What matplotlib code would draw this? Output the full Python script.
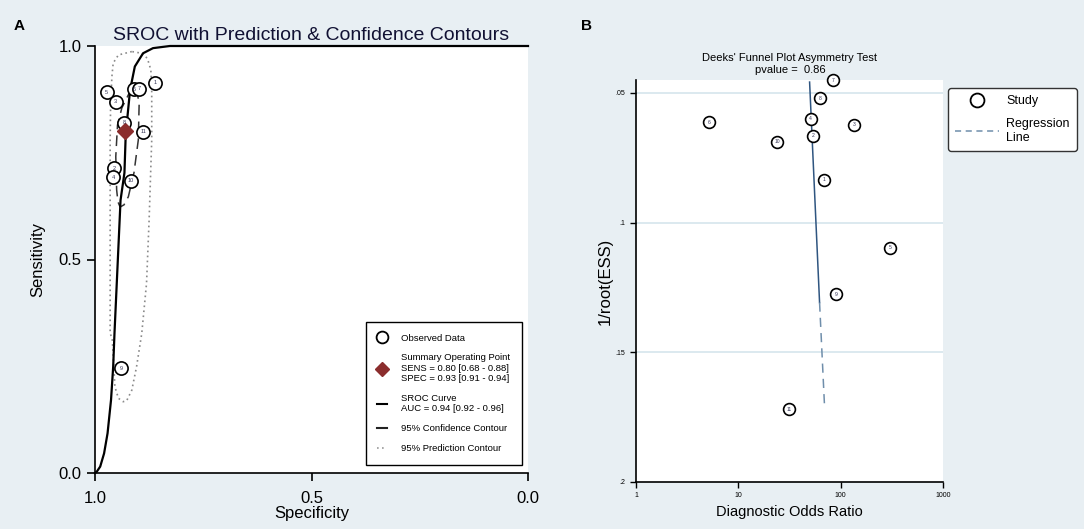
import numpy as np
import matplotlib
matplotlib.use('Agg')
import matplotlib.pyplot as plt
from matplotlib.lines import Line2D

plt.rcParams['font.family'] = ['Liberation Sans', 'DejaVu Sans']
BG = '#e8eff3'

# ---- panel A: SROC ----
study_ids = ['1', '2', '3', '4', '5', '6', '7', '8', '9', '10', '11']
spec_obs = [0.861, 0.955, 0.952, 0.958, 0.973, 0.910, 0.898, 0.933, 0.940, 0.917, 0.888]
sens_obs = [0.914, 0.714, 0.870, 0.693, 0.892, 0.899, 0.900, 0.820, 0.245, 0.685, 0.799]
summary_spec = 0.93
summary_sens = 0.80

sroc_spec = [1.0, 0.996, 0.988, 0.979, 0.971, 0.963, 0.958, 0.955, 0.948, 0.941,
             0.932, 0.929, 0.919, 0.908, 0.889, 0.866, 0.827, 0.0]
sroc_sens = [0.0, 0.003, 0.015, 0.046, 0.093, 0.171, 0.249, 0.327, 0.483, 0.639,
             0.703, 0.794, 0.897, 0.952, 0.983, 0.995, 1.0, 1.0]

conf_spec = [0.915, 0.938, 0.948, 0.952, 0.950, 0.947, 0.942, 0.933, 0.923, 0.910,
             0.900, 0.898, 0.903, 0.915]
conf_sens = [0.902, 0.855, 0.815, 0.741, 0.663, 0.635, 0.623, 0.628, 0.647, 0.703,
             0.780, 0.866, 0.892, 0.902]

pred_spec = [0.915, 0.946, 0.958, 0.961, 0.964, 0.965, 0.965, 0.965, 0.965, 0.960,
             0.954, 0.946, 0.935, 0.927, 0.915, 0.904, 0.892, 0.881, 0.875,
             0.869, 0.869, 0.871, 0.879, 0.892, 0.915]
pred_sens = [0.987, 0.979, 0.960, 0.928, 0.858, 0.780, 0.702, 0.639, 0.328, 0.311,
             0.202, 0.175, 0.167, 0.169, 0.194, 0.249, 0.327, 0.444, 0.593,
             0.780, 0.897, 0.944, 0.971, 0.983, 0.987]

# ---- panel B: Deeks' funnel ----
dor = [68, 54, 134, 51, 302, 5.2, 85, 63, 91, 24, 31.6]
inv_root_ess = [0.0835, 0.0665, 0.0623, 0.060, 0.1096, 0.0612, 0.045, 0.052, 0.1277, 0.0688, 0.172]
reg_dor = [49.7, 62.2, 69.7]
reg_y = [0.0458, 0.1308, 0.1715]
pvalue = 0.86

fig = plt.figure(figsize=(10.84, 5.29), dpi=100, facecolor=BG)

# ================= A =================
axA = fig.add_axes([95/1084, 1-473/529, 433/1084, 427/529])
axA.set_facecolor('white')
axA.plot(pred_spec, pred_sens, color='#8a8a8a', ls=(0, (1, 2)), lw=1.2)
axA.plot(conf_spec, conf_sens, color='#333333', ls=(0, (7, 4)), lw=1.1)
axA.plot(sroc_spec, sroc_sens, color='black', lw=1.6, clip_on=False)
axA.plot(spec_obs, sens_obs, 'o', mfc='white', mec='black', ms=9.5, mew=1.2)
for sid, x, y in zip(study_ids, spec_obs, sens_obs):
    axA.text(x, y, sid, fontsize=4, ha='center', va='center', color='#333355')
axA.plot([summary_spec], [summary_sens], 'D', color='#8b2d2d', ms=8)

axA.set_xlim(1.0, 0.0)
axA.set_ylim(0.0, 1.0)
axA.set_xticks([1.0, 0.5, 0.0])
axA.set_yticks([0.0, 0.5, 1.0])
axA.set_xticklabels(['1.0', '0.5', '0.0'])
axA.set_yticklabels(['0.0', '0.5', '1.0'])
axA.tick_params(labelsize=12, direction='out', length=6, width=1.2)
axA.tick_params(axis='x', pad=7)
for s in ['top', 'right']:
    axA.spines[s].set_visible(False)
for s in ['left', 'bottom']:
    axA.spines[s].set_linewidth(1.2)
axA.set_xlabel('Specificity', fontsize=12, labelpad=0)
axA.set_ylabel('Sensitivity', fontsize=12, labelpad=10)
axA.set_title('SROC with Prediction & Confidence Contours', fontsize=14,
              color='#111133', pad=4)

handles = [
    Line2D([], [], marker='o', ls='none', mfc='white', mec='black', ms=8.5, mew=1.3),
    Line2D([], [], marker='D', ls='none', color='#8b2d2d', ms=7.5),
    Line2D([], [], color='black', lw=1.5),
    Line2D([], [], color='#222222', lw=1.5),
    Line2D([], [], color='#999999', lw=1.2, ls=(0, (1, 2))),
]
labels = [
    'Observed Data',
    'Summary Operating Point\nSENS = 0.80 [0.68 - 0.88]\nSPEC = 0.93 [0.91 - 0.94]',
    'SROC Curve\nAUC = 0.94 [0.92 - 0.96]',
    '95% Confidence Contour',
    '95% Prediction Contour',
]
legA = axA.legend(handles, labels, loc='lower right',
                  bbox_to_anchor=(522/1084, 1-465/529), bbox_transform=fig.transFigure,
                  fontsize=6.8, handlelength=1.0, labelspacing=1.15, borderpad=1.25,
                  handletextpad=1.5, borderaxespad=0, fancybox=False,
                  edgecolor='black', framealpha=1)
legA.get_frame().set_linewidth(1.0)

# ================= B =================
axB = fig.add_axes([636/1084, 1-482/529, 307/1084, 402/529])
axB.set_facecolor('white')
axB.set_xscale('log')
axB.set_xlim(1, 1000)
axB.set_ylim(0.2, 0.045)
axB.set_yticks([0.05, 0.1, 0.15, 0.2])
axB.set_yticklabels(['.05', '.1', '.15', '.2'])
axB.set_xticks([1, 10, 100, 1000])
axB.set_xticklabels(['1', '10', '100', '1000'])
axB.minorticks_off()
for yv in [0.05, 0.1, 0.15]:
    axB.axhline(yv, color='#d9e7ee', lw=1.3, zorder=0)
axB.tick_params(labelsize=5, direction='out', length=4, width=1.0)
for s in ['top', 'right']:
    axB.spines[s].set_visible(False)
for s in ['left', 'bottom']:
    axB.spines[s].set_linewidth(1.2)

axB.plot(reg_dor[:2], reg_y[:2], color='#2f5580', lw=1.1)
axB.plot(reg_dor[1:], reg_y[1:], color='#6f8eab', lw=1.1, ls=(0, (6, 4)))
axB.plot(dor, inv_root_ess, 'o', mfc='white', mec='black', ms=8.5, mew=1.2, clip_on=False)
for sid, x, y in zip(study_ids, dor, inv_root_ess):
    axB.text(x, y, sid, fontsize=3.6, ha='center', va='center', color='#333355')

axB.set_xlabel('Diagnostic Odds Ratio', fontsize=10.5, labelpad=4)
axB.set_ylabel('1/root(ESS)', fontsize=12, labelpad=2)
fig.text(790/1084, 1-64/529, "Deeks' Funnel Plot Asymmetry Test\npvalue =  %.2f" % pvalue,
         ha='center', va='center', fontsize=8, linespacing=1.3)

handlesB = [
    Line2D([], [], marker='o', ls='none', mfc='white', mec='black', ms=10, mew=1.3),
    Line2D([], [], color='#6f8eab', lw=1.1, ls=(0, (4, 3))),
]
legB = axB.legend(handlesB, ['Study', 'Regression\nLine'], loc='upper left',
                  bbox_to_anchor=(948/1084, 1-88/529), bbox_transform=fig.transFigure,
                  fontsize=9, handlelength=3.5, handletextpad=0.6,
                  labelspacing=0.9, borderpad=0.55, borderaxespad=0, fancybox=True,
                  edgecolor='#333333', framealpha=1)

fig.text(14/1084, 1-26/529, 'A', fontsize=11, fontweight='bold', va='center')
fig.text(581/1084, 1-26/529, 'B', fontsize=11, fontweight='bold', va='center')

fig.savefig('out.png', dpi=100, facecolor=BG)
